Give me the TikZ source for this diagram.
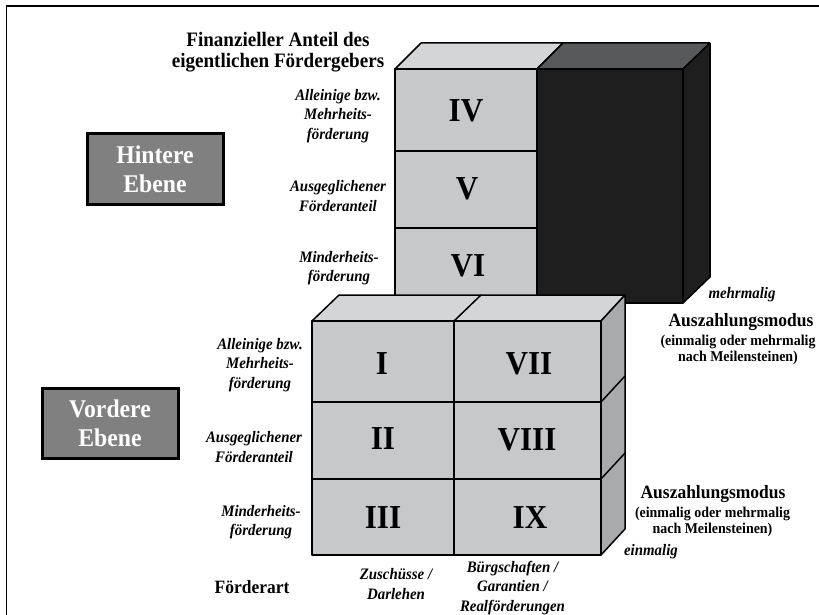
\documentclass[tikz,border=0pt]{standalone}
\usepackage{fontspec}
\setmainfont{Liberation Serif}[FakeStretch=0.93]
\definecolor{frontgray}{HTML}{C7C8CA}
\definecolor{topgray}{HTML}{D4D5D7}
\definecolor{sidegray}{HTML}{A9AAAC}
\definecolor{blackface}{HTML}{1E1E1E}
\definecolor{darktop}{HTML}{58595B}
\definecolor{boxgray}{HTML}{808080}
\begin{document}
\begin{tikzpicture}[x=1pt,y=-1pt,
  face/.style={draw=black,line width=1.5pt,line join=bevel},
  frontf/.style={face,fill=frontgray},
  topf/.style={face,fill=topgray},
  sidef/.style={face,fill=sidegray},
  blackf/.style={face,fill=blackface},
  darkf/.style={face,fill=darktop},
  numeral/.style={font=\bfseries\fontsize{33.5}{33.5}\selectfont,inner sep=0pt},
  lab/.style={font=\bfseries\itshape\fontsize{16}{19.5}\selectfont,align=center,inner sep=0pt},
  head/.style={font=\bfseries\fontsize{18.8}{21}\selectfont,align=center,inner sep=0pt},
  sub/.style={font=\bfseries\fontsize{15}{16}\selectfont,align=center,inner sep=0pt},
  ebene/.style={draw=black,line width=3pt,fill=boxgray,text=white,
    font=\bfseries\fontsize{25.5}{29}\selectfont,align=center,inner sep=0pt,
    minimum width=136pt,minimum height=70pt}
]
\useasboundingbox (0,0) rectangle (819,615);
% frame
\draw[line width=1.5pt] (6.5,615) -- (6.5,6) -- (819,6);

% ---------- back block ----------
\draw[topf] (395,69) -- (421,43) -- (563,43) -- (537,69) -- cycle;
\draw[darkf] (537,69) -- (563,43) -- (710,43) -- (683,69) -- cycle;
\draw[blackf] (683,69) -- (710,43) -- (710,277) -- (683,303) -- cycle;
\draw[blackf] (537,69) rectangle (683,303);
\draw[frontf] (395,69) rectangle (537,151);
\draw[frontf] (395,151) rectangle (537,228);
\draw[frontf] (395,228) rectangle (537,303);

% ---------- front block ----------
\draw[topf] (312,321) -- (339,295) -- (625,295) -- (601,321) -- cycle;
\draw[face] (454,321) -- (481,295);
\draw[sidef] (601,321) -- (625,295) -- (625,529) -- (601,555) -- cycle;
\draw[face] (601,402) -- (625,376);
\draw[face] (601,479) -- (625,453);
\draw[frontf] (312,321) rectangle (454,402);
\draw[frontf] (312,402) rectangle (454,479);
\draw[frontf] (312,479) rectangle (454,555);
\draw[frontf] (454,321) rectangle (601,402);
\draw[frontf] (454,402) rectangle (601,479);
\draw[frontf] (454,479) rectangle (601,555);

% numerals
\node[numeral] (nIV) at (466,111) {IV};
\node[numeral] (nV) at (467,189) {V};
\node[numeral] (nVI) at (468,266) {VI};
\node[numeral] (nI) at (382,364) {I};
\node[numeral] (nII) at (383,439) {II};
\node[numeral] (nIII) at (383,517.5) {III};
\node[numeral] (nVII) at (529,364) {VII};
\node[numeral] (nVIII) at (527,440) {VIII};
\node[numeral] (nIX) at (530,517.5) {IX};

% Ebene boxes
\node[ebene] (hint) at (155,169) {Hintere\\Ebene};
\node[ebene] (vord) at (110,423.5) {Vordere\\Ebene};

% title
\node[head,font=\bfseries\fontsize{20.5}{21}\selectfont] (title) at (278,52) {Finanzieller Anteil des\\eigentlichen Fördergebers};

% upper labels
\node[lab] (ua) at (338,116) {Alleinige bzw.\\Mehrheits-\\förderung};
\node[lab] (ub) at (338,196) {Ausgeglichener\\Förderanteil};
\node[lab] (uc) at (339,268) {Minderheits-\\förderung};

% lower labels
\node[lab] (la) at (260,365) {Alleinige bzw.\\Mehrheits-\\förderung};
\node[lab] (lb) at (254,447) {Ausgeglichener\\Förderanteil};
\node[lab] (lc) at (261,522) {Minderheits-\\förderung};

% bottom
\node[head] (art) at (252,587) {Förderart};
\node[lab] (zus) at (396,584) {Zuschüsse /\\Darlehen};
\node[lab] (bur) at (512.5,588) {Bürgschaften /\\Garantien /\\Realförderungen};

% right side
\node[lab] (mehr) at (742,295) {mehrmalig};
\node[head] (az1) at (741,322) {Auszahlungsmodus};
\node[sub] (az1s) at (738,350) {(einmalig oder mehrmalig\\nach Meilensteinen)};
\node[head] (az2) at (713,494) {Auszahlungsmodus};
\node[sub] (az2s) at (712.5,522) {(einmalig oder mehrmalig\\nach Meilensteinen)};
\node[lab] (einm) at (651,552) {einmalig};
\end{tikzpicture}
\end{document}
